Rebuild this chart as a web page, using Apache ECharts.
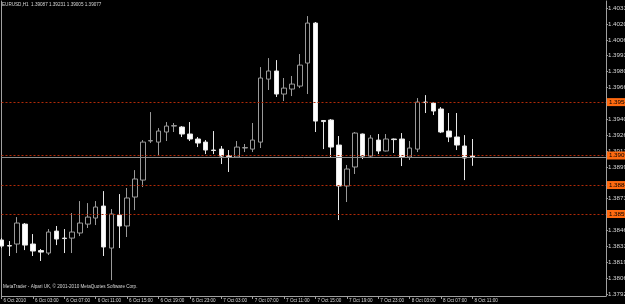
<!DOCTYPE html>
<html>
<head>
<meta charset="utf-8">
<script src="https://cdn.jsdelivr.net/npm/echarts@6/dist/echarts.min.js"></script>
<style>
  html, body { margin: 0; padding: 0; background: #000; }
  #chart { width: 625px; height: 304px; }
</style>
</head>
<body>
<div id="chart"></div>
<script>
// EURUSD H1 bars, [open, close, low, high]
var candles = [
  [1.38380, 1.38329, 1.38312, 1.38396],
  [1.38333, 1.38329, 1.38245, 1.38371],
  [1.38346, 1.38523, 1.38270, 1.38573],
  [1.38514, 1.38337, 1.38295, 1.38523],
  [1.38346, 1.38287, 1.38245, 1.38430],
  [1.38291, 1.38278, 1.38203, 1.38304],
  [1.38270, 1.38447, 1.38253, 1.38472],
  [1.38455, 1.38388, 1.38337, 1.38498],
  [1.38396, 1.38392, 1.38270, 1.38472],
  [1.38396, 1.38447, 1.38270, 1.38607],
  [1.38439, 1.38523, 1.38413, 1.38708],
  [1.38514, 1.38573, 1.38481, 1.38691],
  [1.38565, 1.38658, 1.38506, 1.38708],
  [1.38666, 1.38321, 1.38245, 1.38792],
  [1.38312, 1.38599, 1.38042, 1.38641],
  [1.38590, 1.38498, 1.38312, 1.38767],
  [1.38498, 1.38734, 1.38405, 1.38818],
  [1.38742, 1.38894, 1.38632, 1.38969],
  [1.38885, 1.39205, 1.38826, 1.39222],
  [1.39214, 1.39218, 1.39197, 1.39458],
  [1.39205, 1.39298, 1.39096, 1.39323],
  [1.39290, 1.39340, 1.39214, 1.39374],
  [1.39340, 1.39344, 1.39290, 1.39366],
  [1.39332, 1.39273, 1.39248, 1.39340],
  [1.39273, 1.39231, 1.39214, 1.39374],
  [1.39231, 1.39197, 1.39163, 1.39248],
  [1.39205, 1.39138, 1.39104, 1.39222],
  [1.39138, 1.39134, 1.39104, 1.39298],
  [1.39146, 1.39087, 1.39020, 1.39172],
  [1.39092, 1.39083, 1.38953, 1.39138],
  [1.39079, 1.39163, 1.39075, 1.39214],
  [1.39155, 1.39159, 1.39121, 1.39189],
  [1.39146, 1.39222, 1.39121, 1.39366],
  [1.39205, 1.39745, 1.39155, 1.39837],
  [1.39736, 1.39804, 1.39644, 1.39913],
  [1.39804, 1.39610, 1.39585, 1.39896],
  [1.39610, 1.39660, 1.39551, 1.39745],
  [1.39652, 1.39694, 1.39593, 1.39762],
  [1.39677, 1.39854, 1.39660, 1.39947],
  [1.39871, 1.40208, 1.39610, 1.40267],
  [1.40208, 1.39382, 1.39290, 1.40217],
  [1.39387, 1.39378, 1.39146, 1.39391],
  [1.39391, 1.39163, 1.39079, 1.39399],
  [1.39180, 1.38835, 1.38548, 1.39256],
  [1.38835, 1.38978, 1.38700, 1.39012],
  [1.38995, 1.39281, 1.38936, 1.39290],
  [1.39273, 1.39087, 1.39062, 1.39277],
  [1.39087, 1.39239, 1.39079, 1.39264],
  [1.39222, 1.39130, 1.39104, 1.39273],
  [1.39130, 1.39231, 1.39126, 1.39273],
  [1.39231, 1.39226, 1.39113, 1.39235],
  [1.39231, 1.39079, 1.39003, 1.39281],
  [1.39079, 1.39155, 1.39054, 1.39214],
  [1.39146, 1.39542, 1.39121, 1.39576],
  [1.39542, 1.39538, 1.39450, 1.39601],
  [1.39534, 1.39467, 1.39433, 1.39542],
  [1.39484, 1.39290, 1.39281, 1.39500],
  [1.39298, 1.39248, 1.39205, 1.39450],
  [1.39248, 1.39180, 1.39138, 1.39450],
  [1.39172, 1.39071, 1.38885, 1.39264],
  [1.39087, 1.39077, 1.39005, 1.39231]
];

// one label every 4 bars
var xTickLabels = ['6 Oct 2010', '6 Oct 03:00', '6 Oct 07:00', '6 Oct 11:00', '6 Oct 15:00',
  '6 Oct 19:00', '6 Oct 23:00', '7 Oct 03:00', '7 Oct 07:00', '7 Oct 11:00', '7 Oct 15:00',
  '7 Oct 19:00', '7 Oct 23:00', '8 Oct 03:00', '8 Oct 07:00', '8 Oct 11:00'];

var yTicks = [1.40335, 1.40200, 1.40065, 1.39935, 1.39800, 1.39665, 1.39400, 1.39265,
  1.39130, 1.38995, 1.38730, 1.38465, 1.38330, 1.38195, 1.38060, 1.37925];

// horizontal levels drawn on the chart
var levels = [1.39542, 1.39092, 1.38843, 1.38599];
var bidPrice = 1.39077;

var header = 'EURUSD,H1  1.39087 1.39231 1.39005 1.39077';
var footer = 'MetaTrader - Alpari UK, \u00a9 2001-2010 MetaQuotes Software Corp.';

// categories: bars plus empty space on the right (chart shift)
var totalSlots = 78;
var categories = [];
for (var i = 0; i < totalSlots; i++) {
  if (i % 4 === 0 && i / 4 < xTickLabels.length) categories.push(xTickLabels[i / 4]);
  else categories.push('slot' + i);
}
function isLabelSlot(idx) {
  return idx % 4 === 0 && idx / 4 < xTickLabels.length;
}

var fontFam = 'Liberation Sans';
var chart = echarts.init(document.getElementById('chart'));

var markData = levels.map(function (v) {
  return { yAxis: v };
});
markData.push({
  yAxis: bidPrice,
  lineStyle: { type: 'solid', color: '#8a8a8a', width: 1 },
  label: { show: false }
});

var option = {
  backgroundColor: '#000000',
  animation: false,
  title: [
    { text: header, left: 2, top: 2, padding: 0, textStyle: { color: '#d8d8d8', fontSize: 4.6, fontWeight: 'normal', fontFamily: fontFam } },
    { text: footer, left: 3, top: 284, padding: 0, textStyle: { color: '#d8d8d8', fontSize: 4.6, fontWeight: 'normal', fontFamily: fontFam } }
  ],
  grid: { left: 1.5, right: 19.05, top: 1, bottom: 8, outerBoundsMode: 'none', containLabel: false },
  xAxis: {
    type: 'category',
    data: categories,
    boundaryGap: false,
    axisLine: { show: true, lineStyle: { color: '#a0a0a0', width: 1 } },
    axisTick: {
      show: true,
      length: 3,
      interval: function (idx) { return isLabelSlot(idx); },
      lineStyle: { color: '#a0a0a0' }
    },
    axisLabel: {
      interval: function (idx) { return isLabelSlot(idx); },
      hideOverlap: false,
      showMinLabel: true,
      color: '#d8d8d8',
      fontSize: 4.6,
      fontFamily: fontFam,
      align: 'left',
      margin: 2,
      padding: [0, 0, 0, 2]
    },
    splitLine: { show: false }
  },
  yAxis: [
    {
      type: 'value',
      position: 'right',
      min: 1.37908,
      max: 1.40394,
      scale: true,
      axisLine: { show: true, lineStyle: { color: '#a0a0a0', width: 1 } },
      axisTick: { show: true, length: 2, customValues: yTicks, lineStyle: { color: '#a0a0a0' } },
      axisLabel: {
        customValues: yTicks,
        formatter: function (v) { return v.toFixed(5); },
        color: '#d8d8d8',
        fontSize: 6.2,
        fontFamily: fontFam,
        margin: 2
      },
      splitLine: { show: false }
    },
    {
      type: 'value',
      position: 'left',
      min: 1.37908,
      max: 1.40394,
      scale: true,
      axisLine: { show: true, lineStyle: { color: '#a0a0a0', width: 1 } },
      axisTick: { show: false },
      axisLabel: { show: false },
      splitLine: { show: false }
    }
  ],
  series: [
    {
      type: 'candlestick',
      data: candles,
      yAxisIndex: 0,
      barWidth: 5,
      clip: false,
      itemStyle: {
        color: '#000000',
        color0: '#ffffff',
        borderColor: '#9a9a9a',
        borderColor0: '#e6e6e6',
        borderColorDoji: '#c8c8c8',
        borderWidth: 1
      },
      markLine: {
        silent: true,
        symbol: 'none',
        precision: 5,
        lineStyle: { type: [2, 2], color: '#b02a08', width: 1 },
        label: {
          position: 'end',
          distance: 1,
          formatter: function (p) { return p.value.toFixed(5); },
          backgroundColor: '#ff6a10',
          color: '#000000',
          fontSize: 6.2,
          fontFamily: fontFam,
          padding: [1, 2]
        },
        data: markData
      }
    }
  ]
};

chart.setOption(option);
</script>
</body>
</html>
